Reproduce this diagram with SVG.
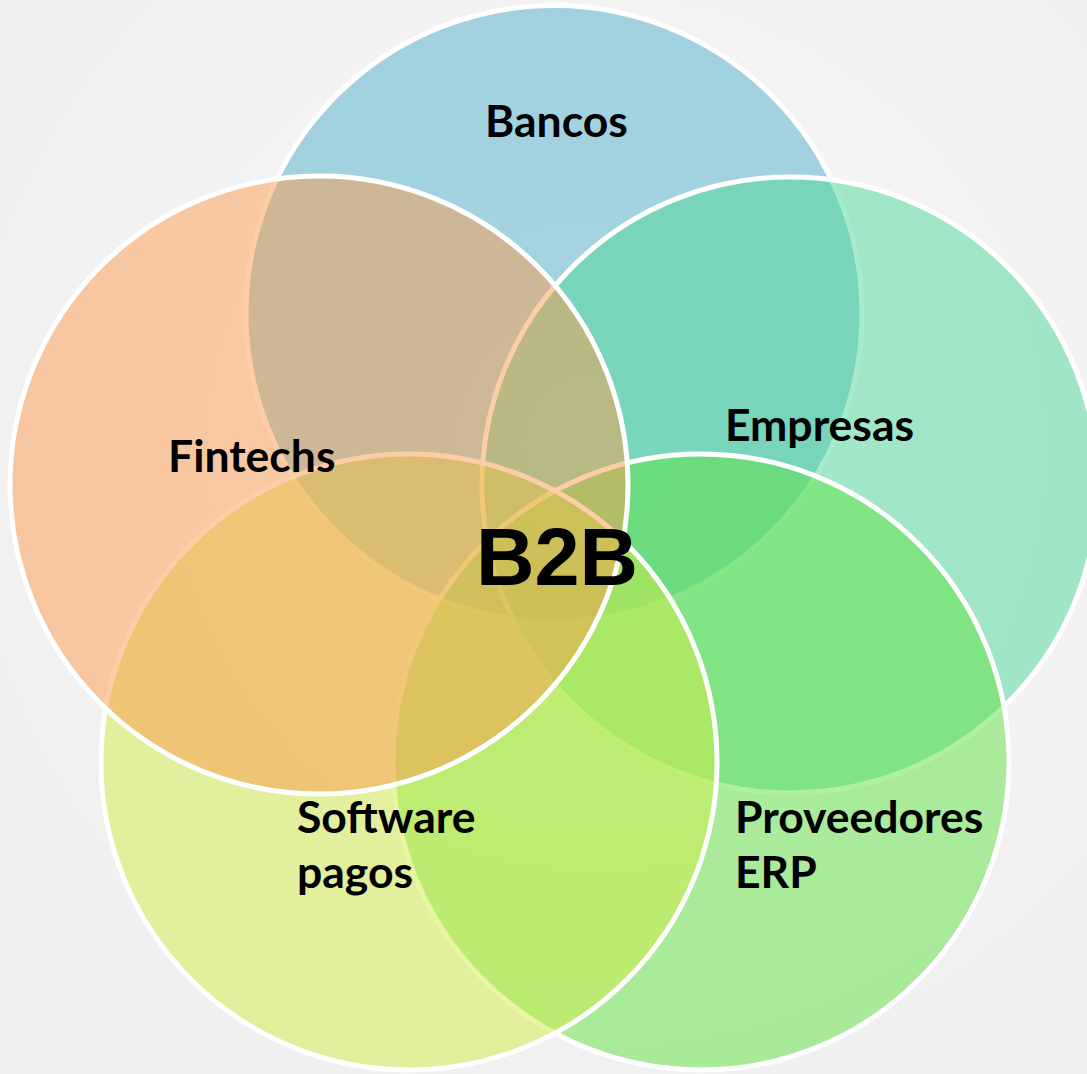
<svg xmlns="http://www.w3.org/2000/svg" width="1087" height="1074" viewBox="0 0 1087 1074">
  <defs>
    <radialGradient id="bg" cx="600" cy="450" r="750" gradientUnits="userSpaceOnUse">
      <stop offset="0" stop-color="#f9f9f9"/>
      <stop offset="1" stop-color="#efefef"/>
    </radialGradient>
  </defs>
  <style>
    .c { stroke: #ffffff; stroke-width: 5; fill-opacity: 0.5; }
    .lbl { font-family: Lato, "Liberation Sans", sans-serif; font-weight: bold; font-size: 44.5px; fill: #000000; }
    .ctr { font-family: "Liberation Sans", Arial, sans-serif; font-weight: bold; font-size: 81px; fill: #000000; }
  </style>
  <rect x="0" y="0" width="1087" height="1074" fill="url(#bg)"/>
  <g id="bancos">
    <circle class="c" cx="554" cy="313.5" r="308" fill="#50B0CA"/>
  </g>
  <g id="empresas">
    <circle class="c" cx="790" cy="485" r="308" fill="#4ED898"/>
  </g>
  <g id="proveedores">
    <circle class="c" cx="701" cy="762" r="308" fill="#60E244"/>
  </g>
  <g id="software">
    <circle class="c" cx="409" cy="762" r="308" fill="#D2EC46"/>
  </g>
  <g id="fintechs">
    <circle class="c" cx="319" cy="485" r="309" fill="#FA9C4E"/>
  </g>
  <g id="labels">
    <text class="lbl" x="485" y="137">Bancos</text>
    <text class="lbl" x="168" y="472">Fintechs</text>
    <text class="lbl" x="725" y="441">Empresas</text>
    <text class="lbl" x="297" y="833">Software</text>
    <text class="lbl" x="297" y="888">pagos</text>
    <text class="lbl" x="735" y="833">Proveedores</text>
    <text class="lbl" x="735" y="888">ERP</text>
  </g>
  <g id="b2b">
    <text class="ctr" x="557" y="585" text-anchor="middle">B2B</text>
  </g>
  <g id="connectors"/>
</svg>
